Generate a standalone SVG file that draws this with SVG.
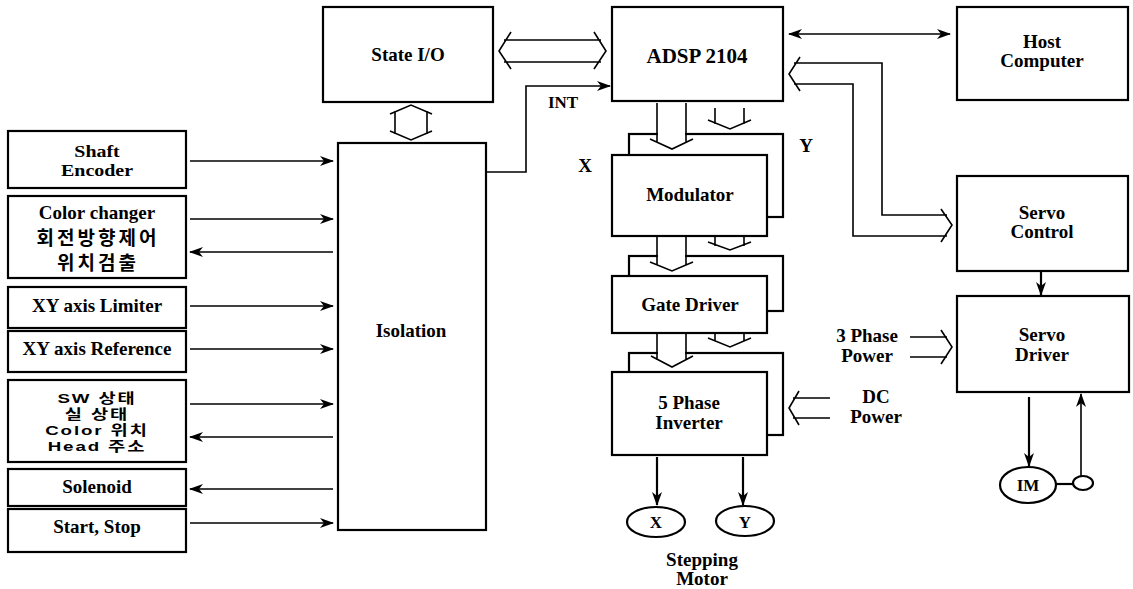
<svg xmlns="http://www.w3.org/2000/svg" width="1133" height="589" viewBox="0 0 1133 589">
<defs>
<style>
.box{fill:#fff;stroke:#000;stroke-width:2.2}
.ln{fill:none;stroke:#000;stroke-width:1.6}
.thk{fill:none;stroke:#000;stroke-width:2.2}
.t{font-family:"Liberation Serif","Times New Roman",serif;font-weight:bold;font-size:19px;text-anchor:middle;fill:#000}
.k{font-family:"Liberation Sans","Noto Sans CJK KR",sans-serif;font-weight:bold;font-size:19px;text-anchor:middle;fill:#000;letter-spacing:3px}
.ks{font-family:"Liberation Sans","Noto Sans CJK KR",sans-serif;font-weight:bold;font-size:15px;text-anchor:middle;fill:#000;letter-spacing:1.5px}
</style>
<marker id="ah" markerWidth="14" markerHeight="10" refX="13" refY="5" orient="auto" markerUnits="userSpaceOnUse">
<path d="M0,0 L14,5 L0,10 L4,5 z" fill="#000"/>
</marker>
<marker id="ahs" markerWidth="14" markerHeight="10" refX="1" refY="5" orient="auto" markerUnits="userSpaceOnUse">
<path d="M14,0 L0,5 L14,10 L10,5 z" fill="#000"/>
</marker>
</defs>
<rect width="1133" height="589" fill="#fff"/>

<g id="shaft-encoder"><rect class="box" x="8" y="131" width="178" height="57"/><text class="t" transform="translate(97,157) scale(1.05,0.88)">Shaft</text><text class="t" transform="translate(97,176) scale(1.05,0.88)">Encoder</text></g>
<g id="color-changer"><rect class="box" x="8" y="196" width="178" height="82"/><text class="t" x="97" y="219">Color changer</text><text class="k" x="98" y="245">회전방향제어</text><text class="k" x="98" y="270">위치검출</text></g>
<g id="xy-limiter"><rect class="box" x="8" y="287" width="178" height="41"/><text class="t" x="97" y="312">XY axis Limiter</text></g>
<g id="xy-reference"><rect class="box" x="8" y="331" width="178" height="41"/><text class="t" x="97" y="355">XY axis Reference</text></g>
<g id="sw-state"><rect class="box" x="8" y="380" width="178" height="82"/>
<text class="ks" transform="translate(97,403) scale(1.25,0.88)">SW 상태</text>
<text class="ks" transform="translate(97,419) scale(1.25,0.88)">실 상태</text>
<text class="ks" transform="translate(97,435) scale(1.25,0.88)">Color 위치</text>
<text class="ks" transform="translate(97,451) scale(1.25,0.88)">Head 주소</text></g>
<g id="solenoid"><rect class="box" x="8" y="469" width="178" height="37"/><text class="t" x="97" y="493">Solenoid</text></g>
<g id="start-stop"><rect class="box" x="8" y="509" width="178" height="43"/><text class="t" x="97" y="533">Start,  Stop</text></g>

<g id="isolation"><rect class="box" x="338" y="143" width="148" height="387"/><text class="t" x="411" y="337">Isolation</text></g>
<g id="state-io"><rect class="box" x="323" y="7" width="170" height="95"/><text class="t" x="408" y="61">State I/O</text></g>
<g id="adsp"><rect class="box" x="612" y="7" width="171" height="94"/><text class="t" x="697" y="63" style="font-size:21px">ADSP 2104</text></g>
<g id="host"><rect class="box" x="957" y="7" width="171" height="93"/><text class="t" x="1042" y="48">Host</text><text class="t" x="1042" y="67">Computer</text></g>
<g id="servo-control"><rect class="box" x="957" y="176" width="171" height="95"/><text class="t" x="1042" y="219">Servo</text><text class="t" x="1042" y="238">Control</text></g>
<g id="servo-driver"><rect class="box" x="957" y="296" width="172" height="96"/><text class="t" x="1042" y="341">Servo</text><text class="t" x="1042" y="361">Driver</text></g>

<g id="modulator"><rect class="box" x="629" y="134" width="154" height="83"/><rect class="box" x="612" y="155" width="155" height="81"/><text class="t" x="690" y="201">Modulator</text></g>
<g id="gate-driver"><rect class="box" x="629" y="256" width="154" height="55"/><rect class="box" x="612" y="276" width="155" height="57"/><text class="t" x="690" y="311">Gate Driver</text></g>
<g id="inverter"><rect class="box" x="629" y="353" width="154" height="82"/><rect class="box" x="612" y="372" width="155" height="83"/><text class="t" x="689" y="409">5 Phase</text><text class="t" x="689" y="429">Inverter</text></g>

<g id="motor-x"><ellipse class="thk" cx="656" cy="522" rx="29" ry="15"/><text class="t" x="656" y="528" style="font-size:17px">X</text></g>
<g id="motor-y"><ellipse class="thk" cx="745" cy="521" rx="29" ry="15"/><text class="t" x="745" y="528" style="font-size:17px">Y</text></g>
<g id="im"><ellipse class="thk" cx="1028" cy="485" rx="28" ry="18"/><text class="t" x="1028" y="491" style="font-size:17px">IM</text></g>
<g id="encoder-sensor"><ellipse class="thk" cx="1083" cy="483" rx="10" ry="7"/></g>

<g id="labels">
<text class="t" x="585" y="172">X</text>
<text class="t" x="806" y="152">Y</text>
<text class="t" x="563" y="108" style="font-size:17px">INT</text>
<text class="t" x="867" y="342">3 Phase</text><text class="t" x="867" y="362">Power</text>
<text class="t" x="876" y="403">DC</text><text class="t" x="876" y="423">Power</text>
<text class="t" x="702" y="566">Stepping</text><text class="t" x="702" y="585">Motor</text>
</g>

<g id="connectors">
<line class="ln" x1="190" y1="161" x2="333" y2="161" marker-end="url(#ah)"/>
<line class="ln" x1="190" y1="219" x2="333" y2="219" marker-end="url(#ah)"/>
<line class="ln" x1="190" y1="252" x2="333" y2="252" marker-start="url(#ahs)"/>
<line class="ln" x1="190" y1="306" x2="333" y2="306" marker-end="url(#ah)"/>
<line class="ln" x1="190" y1="349" x2="333" y2="349" marker-end="url(#ah)"/>
<line class="ln" x1="190" y1="404" x2="333" y2="404" marker-end="url(#ah)"/>
<line class="ln" x1="190" y1="437" x2="333" y2="437" marker-start="url(#ahs)"/>
<line class="ln" x1="190" y1="489" x2="333" y2="489" marker-start="url(#ahs)"/>
<line class="ln" x1="190" y1="523" x2="333" y2="523" marker-end="url(#ah)"/>

<polyline class="ln" points="486,172 526,172 526,86 610,86" marker-end="url(#ah)"/>

<path class="ln" d="M504,40 H601 M504,62 H601 M511,32 L499,51 L511,69 M594,32 L606,51 L594,69"/>
<path class="ln" d="M395,111 V134 M427,111 V134 M390,114 L411,105 L432,114 M390,131 L411,140 L432,131"/>

<line class="ln" x1="789" y1="34" x2="950" y2="34" marker-start="url(#ahs)" marker-end="url(#ah)"/>

<path class="ln" d="M794,63 H882 V215 H947 M794,84 H853 V236 H947 M800,57 L789,74 L800,91 M941,209 L952,225 L941,242"/>

<rect x="658" y="103" width="27" height="40" fill="#fff"/>
<path class="ln" d="M657,103 V142 M686,103 V142 M650,139 L672,149 L693,139"/>
<path class="ln" d="M715,108 V124 M744,108 V124 M708,120 L730,129 L751,120"/>

<rect x="658" y="238" width="27" height="27" fill="#fff"/>
<path class="ln" d="M657,237 V265 M686,237 V265 M650,262 L672,271 L693,262"/>
<path class="ln" d="M715,237 V246 M744,237 V246 M708,242 L730,250 L751,242"/>

<rect x="658" y="335" width="27" height="25" fill="#fff"/>
<path class="ln" d="M657,334 V360 M686,334 V360 M651,356 L672,367 L693,356"/>
<path class="ln" d="M715,334 V341 M744,334 V341 M708,338 L730,347 L751,338"/>

<path class="ln" d="M793,398 H830 M793,418 H830 M799,391 L789,408 L799,425"/>
<path class="ln" d="M910,337 H947 M910,357 H947 M941,330 L952,347 L941,364"/>

<line class="thk" x1="657" y1="457" x2="657" y2="505" marker-end="url(#ah)"/>
<line class="thk" x1="743" y1="457" x2="743" y2="505" marker-end="url(#ah)"/>

<line class="thk" x1="1041" y1="272" x2="1041" y2="295" marker-end="url(#ah)"/>
<line class="thk" x1="1029" y1="397" x2="1029" y2="466" marker-end="url(#ah)"/>
<line class="thk" x1="1056" y1="484" x2="1073" y2="484"/>
<line class="ln" x1="1081" y1="476" x2="1081" y2="394" marker-end="url(#ah)"/>
</g>
</svg>
